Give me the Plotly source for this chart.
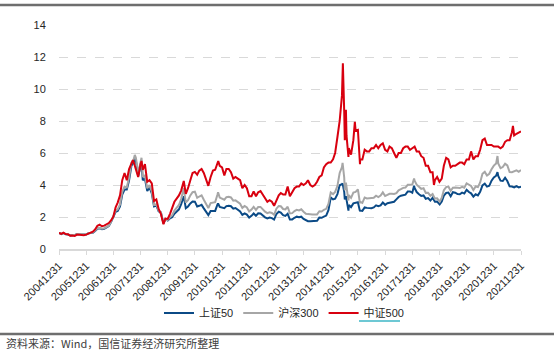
import pandas as pd
import plotly.graph_objects as go

# ---------------- data ----------------
# monthly closes, normalised (2004-12-31 = 1), Dec 2004 .. Dec 2021
sz50 = [1.00,
    0.93, 0.99, 0.92, 0.91, 0.84, 0.87, 0.86, 0.93, 0.92, 0.89, 0.88, 0.91,
    0.98, 1.01, 1.02, 1.13, 1.27, 1.30, 1.24, 1.27, 1.35, 1.43, 1.68, 2.00,
    2.33, 2.38, 2.66, 3.40, 3.72, 3.72, 4.30, 5.20, 5.40, 5.50, 4.55, 5.12,
    4.30, 4.40, 3.62, 3.85, 3.48, 2.66, 2.72, 2.35, 2.28, 1.66, 1.86, 1.78,
    1.92, 1.98, 2.20, 2.32, 2.48, 2.80, 3.22, 2.55, 2.66, 2.85, 2.97, 2.96,
    2.66, 2.70, 2.76, 2.54, 2.31, 2.12, 2.38, 2.36, 2.38, 2.78, 2.63, 2.57,
    2.55, 2.68, 2.70, 2.67, 2.52, 2.56, 2.45, 2.35, 2.13, 2.23, 2.15, 1.96,
    2.07, 2.22, 2.08, 2.23, 2.22, 2.09, 1.98, 1.91, 1.96, 1.93, 1.84, 2.19,
    2.33, 2.28, 2.12, 2.07, 2.20, 1.84, 1.85, 1.95, 2.02, 1.98, 2.02, 1.88,
    1.78, 1.74, 1.74, 1.75, 1.76, 1.76, 1.96, 1.95, 2.02, 2.09, 2.43, 3.22,
    3.10, 3.15, 3.43, 3.98, 4.05, 3.58, 3.05, 2.75, 2.62, 2.85, 2.88, 2.92,
    2.40, 2.38, 2.60, 2.57, 2.56, 2.55, 2.60, 2.73, 2.67, 2.72, 2.90, 2.76,
    2.86, 2.88, 2.91, 2.95, 3.10, 3.25, 3.33, 3.37, 3.40, 3.60, 3.60, 3.52,
    3.82, 3.56, 3.42, 3.32, 3.35, 3.14, 3.18, 3.03, 3.20, 2.95, 2.96, 2.78,
    2.96, 3.33, 3.50, 3.53, 3.30, 3.55, 3.52, 3.43, 3.42, 3.52, 3.47, 3.70,
    3.56, 3.48, 3.27, 3.42, 3.35, 3.57, 3.98, 4.08, 3.90, 3.95, 4.27, 4.47,
    4.58, 4.57, 4.27, 4.25, 4.45, 4.25, 3.92, 3.90, 3.85, 3.93, 3.85, 3.90]

hs300 = [1.00,
    0.94, 1.00, 0.93, 0.92, 0.85, 0.88, 0.88, 0.94, 0.93, 0.90, 0.89, 0.92,
    0.99, 1.02, 1.03, 1.15, 1.30, 1.33, 1.27, 1.30, 1.38, 1.46, 1.70, 2.04,
    2.40, 2.48, 2.78, 3.58, 3.90, 3.85, 4.47, 5.40, 5.59, 5.69, 4.74, 5.34,
    4.50, 4.60, 3.80, 3.99, 3.60, 2.75, 2.80, 2.40, 2.30, 1.68, 1.90, 1.82,
    2.00, 2.10, 2.40, 2.55, 2.75, 3.14, 3.70, 2.90, 3.05, 3.35, 3.55, 3.58,
    3.20, 3.28, 3.35, 3.08, 2.80, 2.56, 2.87, 2.90, 2.93, 3.40, 3.21, 3.13,
    3.08, 3.24, 3.26, 3.22, 3.02, 3.04, 2.94, 2.83, 2.57, 2.69, 2.60, 2.35,
    2.46, 2.63, 2.45, 2.62, 2.63, 2.46, 2.33, 2.24, 2.29, 2.25, 2.14, 2.52,
    2.69, 2.67, 2.50, 2.47, 2.64, 2.22, 2.24, 2.37, 2.45, 2.41, 2.48, 2.33,
    2.20, 2.18, 2.15, 2.16, 2.16, 2.16, 2.36, 2.34, 2.45, 2.51, 2.81, 3.53,
    3.43, 3.57, 3.95, 4.75, 5.12, 4.47, 3.82, 3.37, 3.20, 3.53, 3.57, 3.73,
    2.95, 2.88, 3.22, 3.16, 3.17, 3.15, 3.20, 3.33, 3.25, 3.34, 3.54, 3.31,
    3.39, 3.45, 3.46, 3.44, 3.49, 3.67, 3.74, 3.82, 3.84, 4.01, 4.01, 4.03,
    4.27, 4.02, 3.90, 3.76, 3.80, 3.51, 3.52, 3.33, 3.44, 3.15, 3.17, 3.01,
    3.20, 3.67, 3.87, 3.91, 3.63, 3.83, 3.84, 3.80, 3.81, 3.89, 3.83, 4.10,
    3.99, 3.94, 3.69, 3.91, 3.87, 4.16, 4.70, 4.82, 4.59, 4.70, 4.98, 5.21,
    5.35, 5.34, 5.05, 5.12, 5.33, 5.22, 4.81, 4.80, 4.87, 4.91, 4.83, 4.94]

zz500 = [1.00,
    0.95, 1.02, 0.93, 0.92, 0.83, 0.85, 0.82, 0.90, 0.89, 0.85, 0.86, 0.90,
    0.98, 1.04, 1.08, 1.22, 1.45, 1.52, 1.42, 1.46, 1.56, 1.62, 1.78, 2.02,
    2.60, 2.90, 3.35, 4.30, 4.75, 4.30, 5.00, 5.35, 5.45, 5.00, 4.50, 5.30,
    4.95, 5.30, 4.20, 4.30, 4.10, 3.00, 3.10, 2.50, 2.20, 1.60, 1.90, 1.88,
    2.20, 2.50, 2.95, 3.15, 3.35, 3.65, 4.10, 3.45, 3.80, 4.30, 4.75, 4.82,
    4.65, 4.90, 5.00, 4.75, 4.30, 3.95, 4.50, 4.90, 4.95, 5.35, 5.20, 5.10,
    4.60, 5.00, 5.00, 4.80, 4.40, 4.50, 4.40, 4.30, 3.80, 4.00, 3.80, 3.30,
    3.30, 3.60, 3.30, 3.55, 3.62, 3.40, 3.10, 2.95, 3.05, 2.95, 2.70, 3.00,
    3.35, 3.50, 3.40, 3.40, 3.90, 3.30, 3.60, 3.80, 3.90, 3.90, 4.10, 4.00,
    4.10, 4.30, 4.00, 3.90, 4.00, 4.20, 4.50, 4.60, 5.10, 5.30, 5.40, 5.40,
    5.60, 6.00, 7.00, 8.00, 9.60, 8.60, 7.10, 6.30, 5.90, 6.80, 7.40, 7.45,
    5.60, 5.60, 6.20, 6.10, 6.10, 6.30, 6.30, 6.50, 6.30, 6.50, 6.60, 6.20,
    6.10, 6.40, 6.30, 6.00, 5.70, 6.00, 6.00, 6.30, 6.40, 6.40, 6.20, 6.30,
    6.40, 6.10, 6.10, 5.80, 5.70, 5.20, 5.20, 4.80, 4.80, 4.30, 4.50, 4.20,
    4.40, 5.20, 5.70, 5.60, 5.10, 5.20, 5.20, 5.30, 5.40, 5.40, 5.30, 5.60,
    5.60, 6.10, 5.60, 5.80, 5.80, 6.20, 6.80, 6.90, 6.50, 6.50, 6.50, 6.40,
    6.40, 6.40, 6.30, 6.40, 6.70, 6.80, 6.80, 7.30, 7.10, 7.20, 7.30, 7.35]

# intra-month turning points
sz50_extra_dates = ["2007-10-16", "2008-01-14", "2008-11-04", "2009-08-04", "2010-11-08",
                    "2015-06-08", "2015-07-08", "2015-07-23", "2015-08-26", "2016-01-28",
                    "2018-01-24", "2019-01-03", "2021-02-18"]
sz50_extra_vals = [5.65, 5.40, 1.60, 3.30, 2.85, 4.10, 3.10, 3.30, 2.40, 2.35, 3.95, 2.78, 4.80]

hs300_extra_dates = ["2007-10-16", "2008-01-14", "2008-11-04", "2009-08-04", "2010-11-08",
                     "2015-06-08", "2015-07-08", "2015-07-23", "2015-08-26", "2016-01-28",
                     "2018-01-24", "2019-01-03", "2021-02-18"]
hs300_extra_vals = [5.88, 5.70, 1.61, 3.80, 3.55, 5.38, 3.66, 4.15, 3.03, 2.85, 4.40, 2.96, 5.81]

zz500_extra_dates = ["2007-09-20", "2008-01-14", "2008-11-04", "2009-08-04", "2010-11-10",
                     "2015-06-12", "2015-07-08", "2015-07-23", "2015-08-26", "2015-11-20",
                     "2016-01-28", "2018-10-18", "2021-09-14"]
zz500_extra_vals = [5.55, 5.50, 1.55, 4.25, 5.50, 11.6, 6.80, 8.70, 5.75, 7.95, 5.30, 4.00, 7.70]

tick_labels = [f"{y}1231" for y in range(2004, 2022)]
tick_dates = [f"{y}-12-31" for y in range(2004, 2022)]

# ---------------- build series ----------------
month_ends = [pd.Timestamp(2004, 12, 31)] + [
    pd.Timestamp(y, m, 1) + pd.offsets.MonthEnd(0) for y in range(2005, 2022) for m in range(1, 13)
]


def build(vals, ex_d, ex_v):
    s = pd.concat([pd.Series(vals, index=month_ends),
                   pd.Series(ex_v, index=pd.to_datetime(ex_d))]).sort_index()
    return s


series = [
    ("上证50", build(sz50, sz50_extra_dates, sz50_extra_vals), "#0b4a86"),
    ("沪深300", build(hs300, hs300_extra_dates, hs300_extra_vals), "#a6a6a6"),
    ("中证500", build(zz500, zz500_extra_dates, zz500_extra_vals), "#d8000f"),
]

fig = go.Figure()
for name, s, col in series:
    fig.add_trace(go.Scatter(x=s.index, y=s.values, mode="lines", name=name,
                             line=dict(color=col, width=2)))

FONT = "Liberation Sans, Arial, Noto Sans CJK SC, sans-serif"
L, R, T, B = 59, 33, 25, 103
W, H = 554, 352
pw, ph = W - L - R, H - T - B


def px_x(x):
    return (x - L) / pw


def px_y(y):
    return (H - B - y) / ph


fig.update_layout(
    width=W, height=H, autosize=False,
    margin=dict(l=L, r=R, t=T, b=B),
    paper_bgcolor="white", plot_bgcolor="white",
    font=dict(family=FONT, size=11, color="#262626"),
    showlegend=True,
    legend=dict(orientation="h", x=0.487, xanchor="center", y=px_y(313), yanchor="middle",
                font=dict(size=11, color="#262626"), itemwidth=30, tracegroupgap=0,
                bgcolor="rgba(0,0,0,0)"),
    xaxis=dict(type="date", range=["2004-12-31", "2021-12-31"],
               tickvals=tick_dates, ticktext=tick_labels, tickangle=-45,
               tickfont=dict(size=11, color="#262626"),
               showgrid=False, zeroline=False,
               showline=True, linecolor="#d9d9d9", linewidth=2,
               ticks="outside", ticklen=4, tickcolor="#d9d9d9", tickwidth=1),
    yaxis=dict(range=[0, 14], dtick=2, tick0=0,
               tickfont=dict(size=11, color="#262626"),
               showgrid=True, gridcolor="#d9d9d9", griddash="dash", gridwidth=1,
               zeroline=False, showline=False,
               ticks="outside", ticklen=10, tickcolor="rgba(0,0,0,0)"),
    shapes=[
        dict(type="line", xref="paper", yref="paper", x0=px_x(0), x1=px_x(W),
             y0=px_y(5), y1=px_y(5), line=dict(color="#6e6e6e", width=2.5)),
        dict(type="line", xref="paper", yref="paper", x0=px_x(0), x1=px_x(W),
             y0=px_y(334), y1=px_y(334), line=dict(color="#6e6e6e", width=2.5)),
        dict(type="line", xref="paper", yref="paper", x0=px_x(359), x1=px_x(400),
             y0=px_y(321), y1=px_y(321), line=dict(color="#3cb6c6", width=1.5)),
    ],
    annotations=[
        dict(text="资料来源：Wind，国信证券经济研究所整理", xref="paper", yref="paper",
             x=px_x(4), y=px_y(343), xanchor="left", yanchor="middle", showarrow=False,
             font=dict(family="Noto Sans CJK SC, sans-serif", size=11, color="#404040")),
    ],
)

fig.write_html("out.html")
